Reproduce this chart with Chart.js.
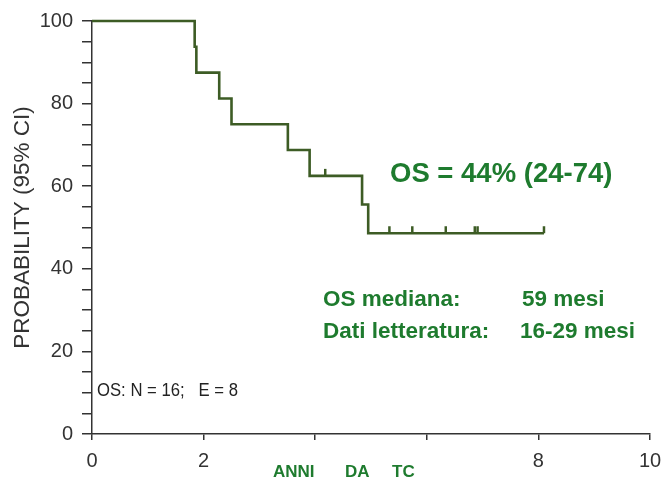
<!DOCTYPE html>
<html>
<head>
<meta charset="utf-8">
<script src="https://cdn.jsdelivr.net/npm/chart.js@4/dist/chart.umd.min.js"></script>
<style>
  html, body { margin: 0; padding: 0; background: #fff; }
  #km { display: block; }
</style>
</head>
<body>
<canvas id="km" width="663" height="481"></canvas>
<script>
// Kaplan-Meier OS curve: event times (years) and survival after each step (%)
const times    = [0, 1.84, 1.87, 2.28, 2.50, 3.51, 3.90, 4.84, 4.95, 8.10];
const survival = [100, 93.75, 87.5, 81.25, 75, 68.75, 62.5, 55.56, 48.61, 48.61];
// censored patients (years)
const censored = [4.18, 5.33, 5.74, 6.34, 6.86, 6.91, 8.10];
// x labels left out at 4 and 6
const hiddenX  = [4, 6];

const GREEN_TXT = '#1e7b2e';
const LINE_COL  = '#3d5c25';
const AXIS_COL  = '#333';

function survAt(t) {
  let s = survival[0];
  for (let i = 0; i < times.length; i++) if (times[i] <= t) s = survival[i];
  return s;
}

// small upward ticks for censored observations
const censorMarks = {
  id: 'censorMarks',
  afterDatasetsDraw(chart) {
    const { ctx, scales: { x, y } } = chart;
    ctx.save();
    ctx.strokeStyle = LINE_COL;
    ctx.lineWidth = 2.5;
    censored.forEach(t => {
      const px = x.getPixelForValue(t);
      const py = y.getPixelForValue(survAt(t));
      ctx.beginPath();
      ctx.moveTo(px, py);
      ctx.lineTo(px, py - 7);
      ctx.stroke();
    });
    ctx.restore();
  }
};

// text boxes on the plot
const notes = {
  id: 'notes',
  afterDraw(chart) {
    const ctx = chart.ctx;
    ctx.save();
    ctx.textBaseline = 'alphabetic';
    ctx.textAlign = 'left';

    ctx.fillStyle = GREEN_TXT;
    ctx.font = 'bold 27.5px "Liberation Sans", Arial, sans-serif';
    ctx.fillText('OS = 44% (24-74)', 390, 182);

    ctx.font = 'bold 22.5px "Liberation Sans", Arial, sans-serif';
    ctx.fillText('OS mediana:', 323, 306);
    ctx.fillText('59 mesi', 522, 306);
    ctx.fillText('Dati letteratura:', 323, 338);
    ctx.fillText('16-29 mesi', 520, 338);

    ctx.font = 'bold 17px "Liberation Sans", Arial, sans-serif';
    ctx.fillText('ANNI', 273, 477);
    ctx.fillText('DA', 345, 477);
    ctx.fillText('TC', 392, 477);

    ctx.fillStyle = '#222';
    ctx.font = '18px "Liberation Sans", Arial, sans-serif';
    ctx.fillText('OS: N = 16;   E = 8', 97, 396, 141);
    ctx.restore();
  }
};

new Chart(document.getElementById('km'), {
  type: 'line',
  data: {
    datasets: [{
      data: times.map((t, i) => ({ x: t, y: survival[i] })),
      stepped: 'before',
      borderColor: LINE_COL,
      borderWidth: 2.6,
      pointRadius: 0,
      fill: false,
      clip: false
    }]
  },
  options: {
    responsive: false,
    animation: false,
    layout: { padding: { top: 17, right: 13, left: 0, bottom: 0 } },
    plugins: { legend: { display: false }, tooltip: { enabled: false } },
    scales: {
      x: {
        type: 'linear',
        min: 0, max: 10,
        afterFit(s) { s.height = 47; s.paddingRight = 0; s.paddingLeft = 0; },
        border: { display: true, color: AXIS_COL, width: 1.5 },
        grid: { drawOnChartArea: false, drawTicks: true, tickLength: 6, color: AXIS_COL, lineWidth: 1.5 },
        ticks: {
          stepSize: 2, autoSkip: false, padding: 9,
          color: AXIS_COL,
          font: { family: '"Liberation Sans", Arial, sans-serif', size: 20 },
          callback: v => hiddenX.includes(v) ? '' : v
        }
      },
      y: {
        min: 0, max: 100,
        afterFit(s) { s.width = 92; },
        border: { display: true, color: AXIS_COL, width: 1.5 },
        grid: { drawOnChartArea: false, drawTicks: true, tickLength: 10, color: AXIS_COL, lineWidth: 1.5 },
        ticks: {
          stepSize: 5, autoSkip: false, padding: 9,
          color: AXIS_COL,
          font: { family: '"Liberation Sans", Arial, sans-serif', size: 20 },
          callback: v => v % 20 === 0 ? v : ''
        },
        title: {
          display: true,
          text: 'PROBABILITY (95% CI)',
          color: AXIS_COL,
          font: { family: '"Liberation Sans", Arial, sans-serif', size: 22.5 },
          padding: { top: 9, bottom: 0 }
        }
      }
    }
  },
  plugins: [censorMarks, notes]
});
</script>
</body>
</html>
